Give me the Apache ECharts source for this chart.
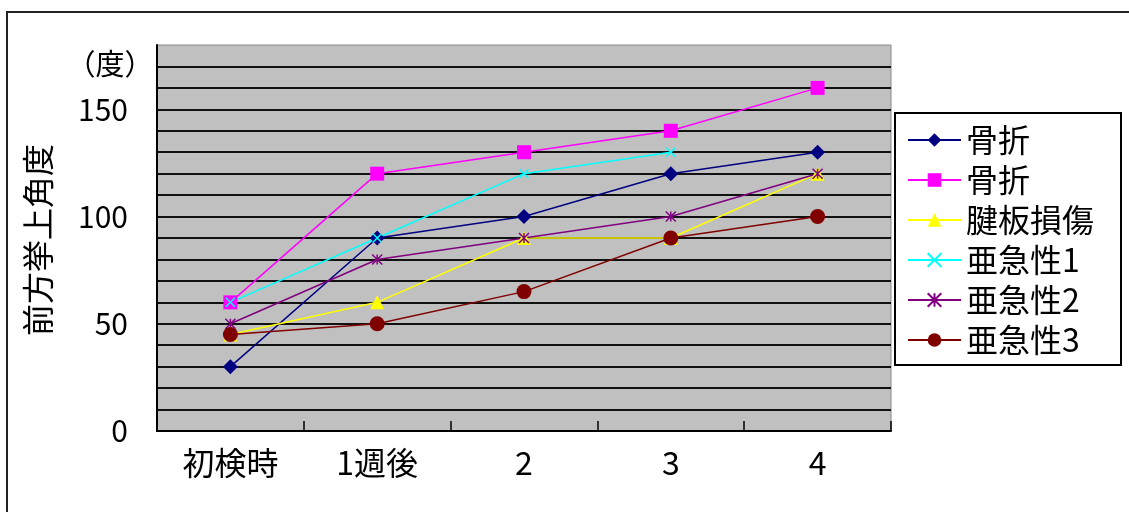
<!DOCTYPE html>
<html>
<head>
<meta charset="utf-8">
<script src="https://cdn.jsdelivr.net/npm/echarts@6/dist/echarts.min.js"></script>
<style>
html,body{margin:0;padding:0;background:#fff;}
#main{width:1129px;height:512px;}
</style>
</head>
<body>
<div id="main"></div>
<script>
const categories = ['初検時', '1週後', '2', '3', '4'];
const seriesNames = ['骨折', '骨折 ', '腱板損傷', '亜急性1', '亜急性2', '亜急性3'];
const fracture1 = [30, 90, 100, 120, 130];
const fracture2 = [60, 120, 130, 140, 160];
const rotatorCuff = [45, 60, 90, 90, 120];
const subacute1 = [60, 90, 120, 130, null];
const subacute2 = [50, 80, 90, 100, 120];
const subacute3 = [45, 50, 65, 90, 100];
const yTickLabels = [0, 50, 100, 150];
const yAxisTitle = '前方挙上角度';
const yUnit = '（度）';

const FONT = 'Noto Sans CJK JP';
const chart = echarts.init(document.getElementById('main'), null, {renderer: 'canvas'});

function mk(name, data, color, symbol, size, extra) {
  return Object.assign({
    name: name,
    type: 'line',
    data: data,
    symbol: symbol,
    symbolSize: size,
    showAllSymbol: true,
    connectNulls: false,
    animation: false,
    lineStyle: {color: color, width: 1.5},
    itemStyle: {color: color}
  }, extra || {});
}

const xPath = 'path://M0,0L10,10M10,0L0,10';
const starPath = 'path://M0,0L10,10M10,0L0,10M5,0L5,10';

const option = {
  animation: false,
  textStyle: {fontFamily: FONT},
  grid: {
    left: 157, right: 238, top: 45, bottom: 81,
    show: true, backgroundColor: '#C0C0C0', borderColor: '#8a8a8a', borderWidth: 1
  },
  xAxis: {
    type: 'category',
    data: categories,
    boundaryGap: true,
    axisLine: {lineStyle: {color: '#000', width: 2}},
    axisTick: {show: true, inside: true, length: 10, interval: 0, lineStyle: {color: '#000', width: 1.5}},
    axisLabel: {color: '#000', fontSize: 32, fontFamily: FONT, margin: 16, interval: 0}
  },
  yAxis: {
    type: 'value',
    min: 0, max: 180, interval: 10,
    axisLine: {show: true, lineStyle: {color: '#000', width: 2}},
    axisTick: {show: false},
    splitLine: {show: true, showMaxLine: false, lineStyle: {color: '#111', width: 2}},
    axisLabel: {
      color: '#000', fontSize: 30, fontFamily: FONT, margin: 29,
      formatter: function (v) { return yTickLabels.indexOf(v) >= 0 ? String(v) : ''; }
    }
  },
  legend: {
    orient: 'vertical',
    left: 907, top: 124,
    padding: 0,
    itemGap: 8,
    itemWidth: 53,
    itemHeight: 17,
    z: 10,
    textStyle: {fontSize: 32, lineHeight: 32, color: '#000', fontFamily: FONT},
    formatter: function (n) { return n.trim(); },
    data: seriesNames
  },
  graphic: [
    {
      type: 'rect', z: -10, silent: true,
      shape: {x: 7, y: 12, width: 1300, height: 700},
      style: {fill: 'none', stroke: '#222', lineWidth: 2}
    },
    {
      type: 'rect', z: 3, silent: true,
      shape: {x: 895, y: 113, width: 226, height: 252},
      style: {fill: '#fff', stroke: '#000', lineWidth: 2}
    },
    {
      type: 'text', x: 38, y: 240, rotation: Math.PI / 2,
      style: {text: yAxisTitle, fontSize: 32, fontFamily: FONT, fill: '#000',
        align: 'center', verticalAlign: 'middle', textAlign: 'center', textVerticalAlign: 'middle'}
    },
    {
      type: 'text', x: 110, y: 64,
      style: {text: yUnit, fontSize: 29, fontFamily: FONT, fill: '#000',
        align: 'center', verticalAlign: 'middle', textAlign: 'center', textVerticalAlign: 'middle'}
    }
  ],
  series: [
    mk(seriesNames[0], fracture1, '#000080', 'diamond', 15),
    mk(seriesNames[1], fracture2, '#FF00FF', 'rect', 14),
    mk(seriesNames[2], rotatorCuff, '#FFFF00', 'triangle', 14),
    mk(seriesNames[3], subacute1, '#00FFFF', xPath, 9, {itemStyle: {color: '#00FFFF', borderColor: '#00FFFF', borderWidth: 1.5}}),
    mk(seriesNames[4], subacute2, '#800080', starPath, 10, {itemStyle: {color: '#800080', borderColor: '#800080', borderWidth: 1.5}}),
    mk(seriesNames[5], subacute3, '#800000', 'circle', 15)
  ]
};
chart.setOption(option);
</script>
</body>
</html>
